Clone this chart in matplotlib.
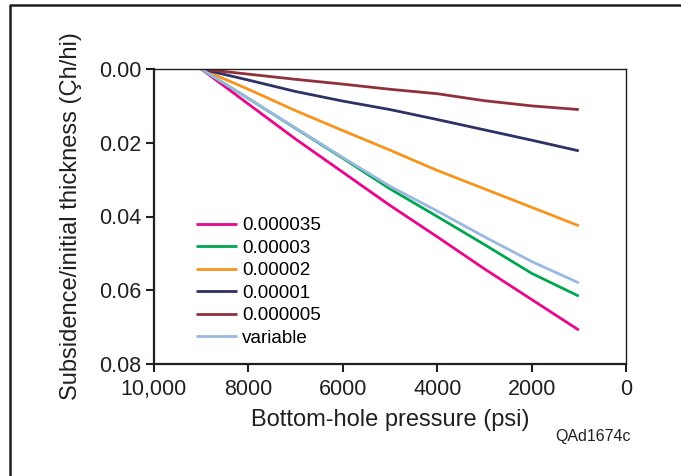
import matplotlib
matplotlib.use('Agg')
import matplotlib.pyplot as plt
from matplotlib.lines import Line2D

plt.rcParams['font.family'] = ['Liberation Sans', 'DejaVu Sans']

# bottom-hole pressure (psi)
pressure = [9000, 8000, 7000, 6000, 5000, 4000, 3000, 2000, 1000]

# subsidence / initial thickness for each compressibility
labels = ['0.000035', '0.00003', '0.00002', '0.00001', '0.000005', 'variable']
s_000035 = [0, 0.0095, 0.0190, 0.0280, 0.0370, 0.0455, 0.0542, 0.0625, 0.0708]
s_00003 = [0, 0.0080, 0.0161, 0.0242, 0.0325, 0.0400, 0.0476, 0.0554, 0.0616]
s_00002 = [0, 0.0055, 0.0113, 0.0167, 0.0220, 0.0275, 0.0325, 0.0375, 0.0425]
s_00001 = [0, 0.0030, 0.0061, 0.0087, 0.0110, 0.0137, 0.0165, 0.0193, 0.0222]
s_000005 = [0, 0.0014, 0.0028, 0.0041, 0.0055, 0.0067, 0.0086, 0.0100, 0.0110]
s_variable = [0, 0.0080, 0.0160, 0.0240, 0.0318, 0.0385, 0.0455, 0.0522, 0.0580]

series = [s_000035, s_00003, s_00002, s_00001, s_000005, s_variable]
colors = ['#E8068B', '#00A651', '#F7941D', '#2E3165', '#90303A', '#9BB8E0']

x_ticks = [10000, 8000, 6000, 4000, 2000, 0]
x_ticklabels = ['10,000', '8000', '6000', '4000', '2000', '0']
y_ticks = [0.00, 0.02, 0.04, 0.06, 0.08]

dark = '#231F20'

fig = plt.figure(figsize=(6.81, 4.76), dpi=100)
ax = fig.add_axes([154/681, 1-364/476, 472/681, 295/476])

for vals, col, lab in zip(series, colors, labels):
    ax.plot(pressure, vals, color=col, lw=2.0, label=lab, solid_capstyle='butt')

ax.set_xlim(10000, 0)
ax.set_ylim(0.08, 0.0)
ax.set_xticks(x_ticks)
ax.set_xticklabels(x_ticklabels)
ax.set_yticks(y_ticks)
ax.set_yticklabels([f'{v:.2f}' for v in y_ticks])
ax.tick_params(direction='out', length=6, width=1.5, labelsize=15.5, colors=dark, pad=3)
ax.tick_params(axis='x', pad=5)

for side in ['left', 'bottom']:
    ax.spines[side].set_linewidth(1.6)
    ax.spines[side].set_color(dark)
for side in ['top', 'right']:
    ax.spines[side].set_linewidth(1.0)
    ax.spines[side].set_color(dark)

ax.set_xlabel('Bottom-hole pressure (psi)', fontsize=17, color=dark, labelpad=6)
ax.set_ylabel('Subsidence/initial thickness (Çh/hi)', fontsize=17, color=dark, labelpad=12)

ax.legend(loc='upper left', bbox_to_anchor=(196/681, 1-217/476), bbox_transform=fig.transFigure,
          frameon=False, fontsize=13.6, handlelength=2.17, handletextpad=0.26,
          labelspacing=0.28, borderpad=0, borderaxespad=0)

fig.text(555/681, 1-436/476, 'QAd1674c', fontsize=11.5, color=dark, va='center')

# frame around the figure
fig.add_artist(Line2D([10/681, 10/681, 1.0], [0.0, 1-4.5/476, 1-4.5/476],
                      transform=fig.transFigure, color=dark, lw=1.8))

fig.savefig('out.png', dpi=100)
